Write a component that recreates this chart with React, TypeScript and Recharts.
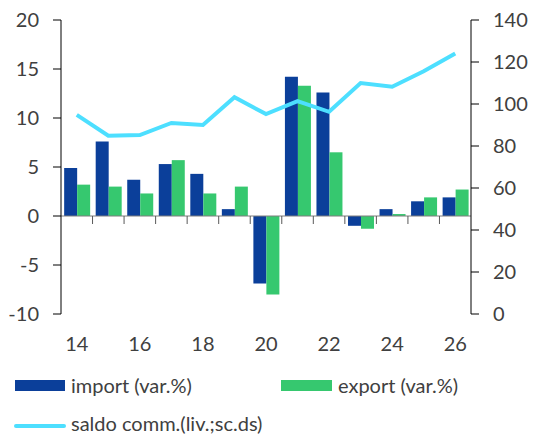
import {
	ComposedChart,
	Bar,
	Line,
	XAxis,
	YAxis,
	ReferenceLine,
} from "recharts";

const years = ["14", "15", "16", "17", "18", "19", "20", "21", "22", "23", "24", "25", "26"];
const importVar = [4.9, 7.6, 3.7, 5.3, 4.3, 0.7, -6.9, 14.2, 12.6, -1.0, 0.7, 1.5, 1.9];
const exportVar = [3.2, 3.0, 2.3, 5.7, 2.3, 3.0, -8.0, 13.3, 6.5, -1.3, 0.2, 1.9, 2.7];
const saldo = [94.8, 84.9, 85.2, 91, 90, 103.2, 95.2, 101.4, 96.3, 110, 108.2, 115.6, 124.1];

const leftTicks = [-10, -5, 0, 5, 10, 15, 20];
const rightTicks = [0, 20, 40, 60, 80, 100, 120, 140];

const IMPORT_COLOR = "#0B3F9A";
const EXPORT_COLOR = "#36C86F";
const SALDO_COLOR = "#4DDFFF";
const TEXT_COLOR = "#404040";
const FONT = "Lato, 'Open Sans', sans-serif";

const data = years.map((year, i) => ({
	year,
	import: importVar[i],
	export: exportVar[i],
	saldo: saldo[i],
}));

// zero line with small category separators hanging below it
const ZeroAxis = (props: any) => {
	const { x1, y1, x2 } = props;
	const step = (x2 - x1) / years.length;
	const marks = [];
	for (let i = 1; i < years.length; i++) {
		const x = x1 + i * step;
		marks.push(<line key={i} x1={x} x2={x} y1={y1} y2={y1 + 8} stroke="#595959" strokeWidth={1} />);
	}
	return (
		<g>
			<line x1={x1} x2={x2} y1={y1} y2={y1} stroke="#7f7f7f" strokeWidth={1} />
			{marks}
		</g>
	);
};

const tickStyle = { fill: TEXT_COLOR, fontSize: 20, fontFamily: FONT };
const legendText = { position: "absolute" as const, fontSize: 20, color: TEXT_COLOR, lineHeight: "18px", whiteSpace: "nowrap" as const };

const App = () => {
	return (
		<div style={{ position: "absolute", left: 0, top: 0, width: 533, height: 435, background: "#fff", fontFamily: FONT }}>
			<ComposedChart
				width={533}
				height={360}
				data={data}
				margin={{ top: 20, right: 0, left: 0, bottom: 0 }}
				barCategoryGap="10%"
				barGap={0}
			>
				<XAxis
					dataKey="year"
					height={46}
					tickLine={false}
					axisLine={false}
					tickSize={0}
					tickMargin={23}
					interval={1}
					tick={tickStyle}
				/>
				<YAxis
					yAxisId="left"
					width={61}
					domain={[-10, 20]}
					ticks={leftTicks}
					tickSize={8}
					tickMargin={14}
					axisLine={{ stroke: "#000" }}
					tickLine={{ stroke: "#000" }}
					tick={tickStyle}
					interval={0}
				/>
				<YAxis
					yAxisId="right"
					orientation="right"
					width={62}
					domain={[0, 140]}
					ticks={rightTicks}
					tickSize={8}
					tickMargin={14}
					axisLine={{ stroke: "#000" }}
					tickLine={{ stroke: "#000" }}
					tick={tickStyle}
					interval={0}
				/>
				<Bar yAxisId="left" dataKey="import" fill={IMPORT_COLOR} isAnimationActive={false} />
				<Bar yAxisId="left" dataKey="export" fill={EXPORT_COLOR} isAnimationActive={false} />
				<ReferenceLine yAxisId="left" y={0} shape={ZeroAxis} />
				<Line
					yAxisId="right"
					type="linear"
					dataKey="saldo"
					stroke={SALDO_COLOR}
					strokeWidth={4}
					dot={false}
					isAnimationActive={false}
				/>
			</ComposedChart>
			<div style={{ position: "absolute", left: 15, top: 380, width: 50, height: 11, background: IMPORT_COLOR }} />
			<div style={{ ...legendText, left: 71, top: 376 }}>import (var.%)</div>
			<div style={{ position: "absolute", left: 281, top: 380, width: 51, height: 11, background: EXPORT_COLOR }} />
			<div style={{ ...legendText, left: 338, top: 376 }}>export (var.%)</div>
			<div style={{ position: "absolute", left: 14, top: 424, width: 52, height: 4, borderRadius: 2, background: SALDO_COLOR }} />
			<div style={{ ...legendText, left: 71, top: 414 }}>saldo comm.(liv.;sc.ds)</div>
		</div>
	);
};

export default App;
